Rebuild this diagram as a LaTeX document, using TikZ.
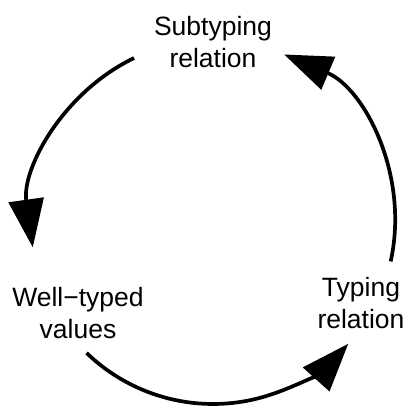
\documentclass[tikz,border=0pt]{standalone}
\usepackage{fontspec}
\setmainfont{Liberation Sans}
\usetikzlibrary{arrows.meta,calc}
\begin{document}
\begin{tikzpicture}[x=1pt,y=-1pt,
  lbl/.style={align=center,inner sep=0pt,anchor=north,font=\fontsize{26.5}{32}\selectfont},
  cyc/.style={line width=3.7pt,-{Triangle[length=48pt,width=35pt]}}]
\useasboundingbox (0,0) rectangle (407,408);
\coordinate (c) at (213,222);
\node[lbl] (sub) at (213,16.5) {Subtyping\\relation};
\node[lbl] (wtv) at (78,286.7) {Well\char"2212 typed\\values};
\node[lbl] (typ) at (361,276.7) {Typing\\relation};
\coordinate (s1) at ($(c)+({182*cos(115.7)},{-182*sin(115.7)})$);
\coordinate (s2) at ($(c)+({182*cos(226)},{-182*sin(226)})$);
\coordinate (s3) at ($(c)+({182*cos(347.5)},{-182*sin(347.5)})$);
\draw[cyc] (s1) arc[start angle=-115.7, end angle=-188, radius=182];
\draw[cyc] (s2) arc[start angle=-226, end angle=-318, radius=182];
\draw[cyc] (s3) arc[start angle=-347.5, end angle=-427, radius=182];
\end{tikzpicture}
\end{document}
